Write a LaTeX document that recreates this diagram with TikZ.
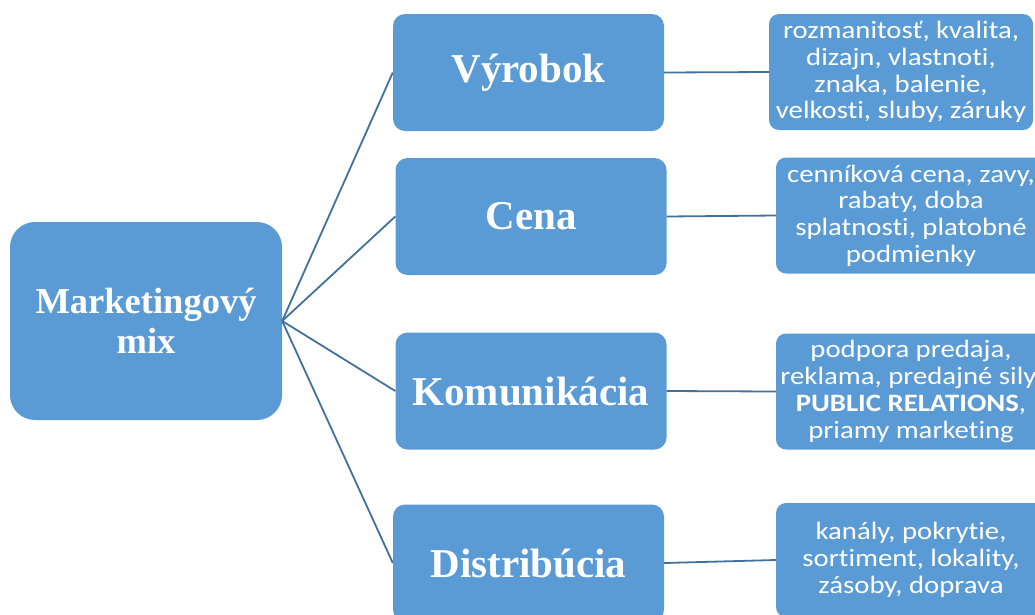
\documentclass[tikz,border=0pt]{standalone}
\usepackage{fontspec}
\setmainfont{Liberation Serif}
\newfontfamily\boxfont[FakeStretch=1.15,Ligatures={NoCommon}]{Carlito}
\definecolor{boxblue}{HTML}{5B9BD5}
\definecolor{lineblue}{HTML}{41719C}
\tikzset{
  rootbox/.style={fill=boxblue, draw=none, rounded corners=25pt, minimum width=272pt, minimum height=198pt, text=white, align=center, font=\fontsize{36.5}{40}\selectfont\bfseries, inner sep=0pt},
  headbox/.style={fill=boxblue, draw=none, rounded corners=12pt, minimum width=271pt, minimum height=117pt, text=white, align=center, font=\fontsize{41}{46}\selectfont\bfseries, inner sep=0pt},
  detbox/.style={fill=boxblue, draw=none, rounded corners=10pt, minimum width=268pt, minimum height=116pt, text=white, align=center, font=\boxfont\fontsize{25}{26.7}\selectfont, inner sep=0pt},
  link/.style={draw=lineblue, line width=1.8pt}
}
\begin{document}
\begin{tikzpicture}[x=1pt,y=-1pt]
\useasboundingbox (0,0) rectangle (1035,614);
\clip (0,0) rectangle (1035,614);
\node[rootbox] (root) at (146,321) {Marketingový\\mix};
\node[headbox] (vyr) at (528.5,72.5) {Výrobok};
\node[headbox] (cena) at (531,216.5) {Cena};
\node[headbox] (kom) at (531,391) {Komunikácia};
\node[headbox] (dis) at (528.5,563) {Distribúcia};
\node[detbox, minimum width=264pt] (r1) at (901,72) {rozmanitosť, kvalita,\\dizajn, vlastnoti,\\znaka, balenie,\\velkosti, sluby, záruky};
\node[detbox, minimum width=270pt] (r2) at (911,215.5) {cenníková cena, zavy,\\rabaty, doba\\splatnosti, platobné\\podmienky};
\node[detbox, minimum width=270pt] (r3) at (911,391.5) {podpora predaja,\\reklama, predajné sily,\\\textbf{PUBLIC RELATIONS},\\priamy marketing};
\node[detbox, minimum width=270pt, minimum height=114pt] (r4) at (911,560) {kanály, pokrytie,\\sortiment, lokality,\\zásoby, doprava};
\draw[link] (root.east) -- (vyr.west);
\draw[link] (root.east) -- (cena.west);
\draw[link] (root.east) -- (kom.west);
\draw[link] (root.east) -- (dis.west);
\draw[link] (vyr.east) -- (r1.west);
\draw[link] (cena.east) -- (r2.west);
\draw[link] (kom.east) -- (r3.west);
\draw[link] (dis.east) -- (r4.west);
\end{tikzpicture}
\end{document}
